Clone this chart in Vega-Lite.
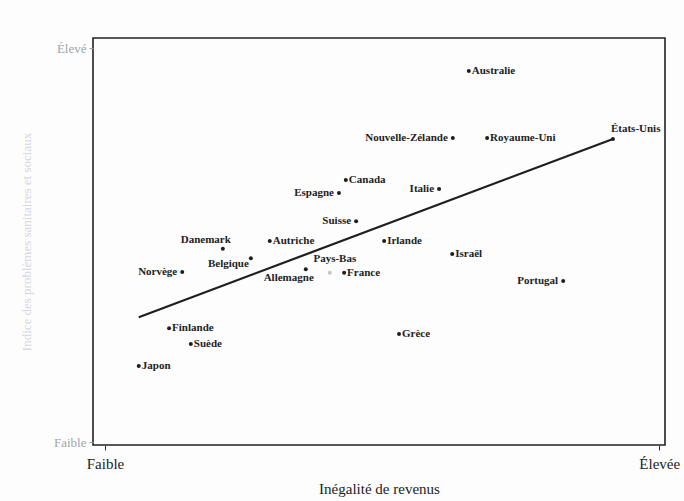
{
  "$schema": "https://vega.github.io/schema/vega-lite/v6.json",
  "width": 572,
  "height": 407,
  "autosize": {"type": "none"},
  "padding": {"left": 93, "top": 38, "right": 19, "bottom": 56},
  "background": "#fdfdfd",
  "config": {
    "view": {"stroke": "#222", "strokeWidth": 1.6},
    "font": "Liberation Serif"
  },
  "datasets": {
    "pays": [
      {"pays": "Australie", "inegalite": 65.7, "indice": 91.9},
      {"pays": "Nouvelle-Zélande", "inegalite": 62.9, "indice": 75.4},
      {"pays": "Royaume-Uni", "inegalite": 68.9, "indice": 75.4},
      {"pays": "États-Unis", "inegalite": 90.9, "indice": 75.2},
      {"pays": "Canada", "inegalite": 44.2, "indice": 65.1},
      {"pays": "Espagne", "inegalite": 43.0, "indice": 61.9},
      {"pays": "Italie", "inegalite": 60.5, "indice": 62.9},
      {"pays": "Suisse", "inegalite": 46.0, "indice": 55.0},
      {"pays": "Danemark", "inegalite": 22.7, "indice": 48.2},
      {"pays": "Autriche", "inegalite": 30.9, "indice": 50.1},
      {"pays": "Irlande", "inegalite": 50.9, "indice": 50.1},
      {"pays": "Belgique", "inegalite": 27.6, "indice": 45.9},
      {"pays": "Israël", "inegalite": 62.8, "indice": 46.9},
      {"pays": "Allemagne", "inegalite": 37.2, "indice": 43.2},
      {"pays": "Pays-Bas", "inegalite": 41.4, "indice": 42.3},
      {"pays": "France", "inegalite": 43.9, "indice": 42.3},
      {"pays": "Norvège", "inegalite": 15.6, "indice": 42.5},
      {"pays": "Portugal", "inegalite": 82.2, "indice": 40.3},
      {"pays": "Finlande", "inegalite": 13.3, "indice": 28.7},
      {"pays": "Suède", "inegalite": 17.1, "indice": 24.8},
      {"pays": "Grèce", "inegalite": 53.5, "indice": 27.3},
      {"pays": "Japon", "inegalite": 8.0, "indice": 19.4}
    ],
    "droite": [
      {"inegalite": 8.0, "indice": 31.4},
      {"inegalite": 90.9, "indice": 75.2}
    ]
  },
  "data": {"name": "pays"},
  "encoding": {
    "x": {
      "field": "inegalite", "type": "quantitative",
      "scale": {"domain": [0, 100], "nice": false, "zero": false},
      "axis": {
        "values": [2.1, 99], "labelExpr": "datum.value < 50 ? 'Faible' : 'Élevée'",
        "grid": false, "domain": false, "tickColor": "#333", "tickSize": 5,
        "labelFont": "Liberation Serif", "labelFontSize": 15, "labelColor": "#222",
        "labelPadding": 6, "labelFlush": false,
        "title": "Inégalité de revenus", "titleFont": "Liberation Serif",
        "titleFontSize": 15, "titleFontWeight": "normal", "titleColor": "#222", "titlePadding": 10
      }
    },
    "y": {
      "field": "indice", "type": "quantitative",
      "scale": {"domain": [0, 100], "nice": false, "zero": false},
      "axis": {
        "values": [0.7, 97.5], "labelExpr": "datum.value < 50 ? 'Faible' : 'Élevé'",
        "grid": false, "domain": false, "tickColor": "#999", "tickSize": 4,
        "labelFont": "Liberation Serif", "labelFontSize": 13, "labelColor": "#a0a5ab",
        "labelPadding": 3,
        "title": "Indice des problèmes sanitaires et sociaux", "titleFont": "Liberation Serif",
        "titleFontSize": 13, "titleFontWeight": "normal", "titleColor": "#d3d7dc", "titlePadding": 20
      }
    }
  },
  "layer": [
    {
      "data": {"name": "droite"},
      "mark": {"type": "line", "color": "#1e1e1e", "strokeWidth": 2.2}
    },
    {
      "mark": {"type": "circle", "size": 16, "opacity": 1},
      "encoding": {
        "color": {"condition": {"test": "datum.pays === 'Pays-Bas'", "value": "#c4c4c4"}, "value": "#1e1e1e"}
      }
    },
    {
      "transform": [{"filter": {"field": "pays", "oneOf": ["Australie", "Royaume-Uni", "Canada", "Autriche", "Irlande", "Israël", "France", "Finlande", "Suède", "Japon", "Grèce"]}}],
      "mark": {"type": "text", "align": "left", "baseline": "middle", "dx": 3, "fontSize": 11, "fontWeight": "bold", "color": "#222"},
      "encoding": {"text": {"field": "pays"}}
    },
    {
      "transform": [{"filter": {"field": "pays", "oneOf": ["Nouvelle-Zélande", "Espagne", "Italie", "Suisse", "Norvège", "Portugal"]}}],
      "mark": {"type": "text", "align": "right", "baseline": "middle", "dx": -5, "fontSize": 11, "fontWeight": "bold", "color": "#222"},
      "encoding": {"text": {"field": "pays"}}
    },
    {
      "transform": [{"filter": {"field": "pays", "equal": "Danemark"}}],
      "mark": {"type": "text", "align": "right", "baseline": "middle", "dx": 8, "dy": -9, "fontSize": 11, "fontWeight": "bold", "color": "#222"},
      "encoding": {"text": {"field": "pays"}}
    },
    {
      "transform": [{"filter": {"field": "pays", "equal": "États-Unis"}}],
      "mark": {"type": "text", "align": "left", "baseline": "middle", "dx": -2, "dy": -10, "fontSize": 11, "fontWeight": "bold", "color": "#222"},
      "encoding": {"text": {"field": "pays"}}
    },
    {
      "transform": [{"filter": {"field": "pays", "equal": "Pays-Bas"}}],
      "mark": {"type": "text", "align": "center", "baseline": "middle", "dx": 5, "dy": -14, "fontSize": 11, "fontWeight": "bold", "color": "#222"},
      "encoding": {"text": {"field": "pays"}}
    },
    {
      "transform": [{"filter": {"field": "pays", "equal": "Belgique"}}],
      "mark": {"type": "text", "align": "right", "baseline": "middle", "dx": -2, "dy": 6, "fontSize": 11, "fontWeight": "bold", "color": "#222"},
      "encoding": {"text": {"field": "pays"}}
    },
    {
      "transform": [{"filter": {"field": "pays", "equal": "Allemagne"}}],
      "mark": {"type": "text", "align": "right", "baseline": "middle", "dx": 8, "dy": 9, "fontSize": 11, "fontWeight": "bold", "color": "#222"},
      "encoding": {"text": {"field": "pays"}}
    }
  ]
}
